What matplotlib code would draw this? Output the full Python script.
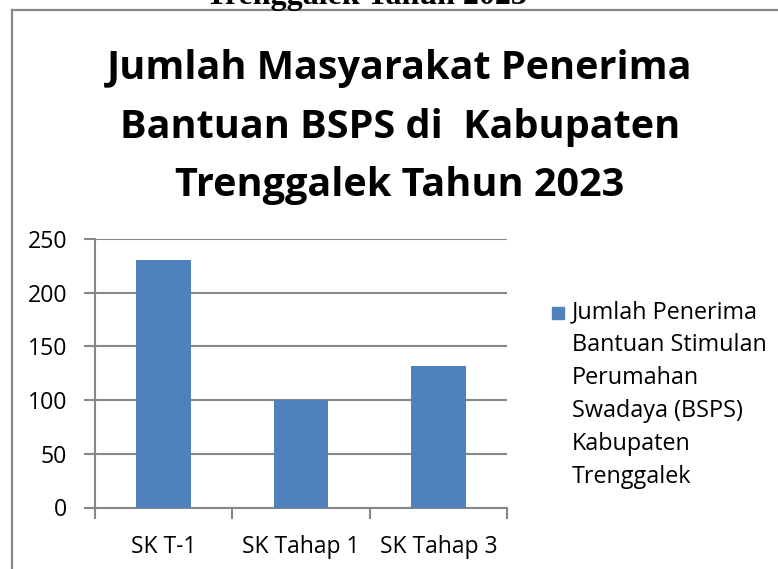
import matplotlib
matplotlib.use("Agg")
import matplotlib.pyplot as plt
from matplotlib.lines import Line2D
from matplotlib.patches import Rectangle

# data
kategori = ["SK T-1", "SK Tahap 1", "SK Tahap 3"]
jumlah = [230, 100, 132]
nama_seri = "Jumlah Penerima\nBantuan Stimulan\nPerumahan\nSwadaya (BSPS)\nKabupaten\nTrenggalek"
judul = "Jumlah Masyarakat Penerima\nBantuan BSPS di  Kabupaten\nTrenggalek Tahun 2023"
yticks = [0, 50, 100, 150, 200, 250]

plt.rcParams["font.family"] = "Open Sans"
abu = "#878787"
biru = "#4F81BD"

fig = plt.figure(figsize=(7.78, 5.69), dpi=100)

# teks dokumen yang terpotong di atas
fig.text(0.471, 1 - 4 / 569, "Trenggalek Tahun 2023", family="Liberation Serif",
         fontweight="bold", fontsize=23, ha="center", va="baseline")

# bingkai chart
fig.add_artist(Line2D([12 / 778, 1.0], [1 - 10 / 569, 1 - 10 / 569], color=abu, lw=1.6))
fig.add_artist(Line2D([12 / 778, 12 / 778], [1 - 10 / 569, 0.0], color=abu, lw=1.6))

fig.text(0.514, 1 - 127 / 569, judul, fontsize=28.5, fontweight="bold",
         ha="center", va="center", linespacing=1.65)

ax = fig.add_axes([95 / 778, 1 - 507.5 / 569, 412 / 778, 268.5 / 569])
x = range(len(kategori))
ax.bar(x, jumlah, width=0.4, color=biru, zorder=3)

ax.set_xlim(-0.5, 2.5)
ax.set_ylim(0, 250)
ax.set_yticks(yticks)
ax.yaxis.grid(True, color=abu, lw=1.5, zorder=0)
ax.set_xticks([-0.5, 0.5, 1.5, 2.5])
ax.set_xticklabels([])
ax.set_xticks(list(x), minor=True)
ax.set_xticklabels(kategori, minor=True)
ax.tick_params(axis="x", which="major", length=8, width=1.5, color=abu, direction="out")
ax.tick_params(axis="x", which="minor", length=0, labelsize=16.5, pad=20)
ax.tick_params(axis="y", length=8, width=1.5, color=abu, labelsize=16.7, pad=12)
for s in ["top", "right"]:
    ax.spines[s].set_visible(False)
for s in ["left", "bottom"]:
    ax.spines[s].set_color(abu)
    ax.spines[s].set_linewidth(1.5)

# legenda
fig.add_artist(Rectangle((552 / 778, 1 - 319 / 569), 12 / 778, 12 / 569,
                         transform=fig.transFigure, color=biru))
fig.text(572 / 778, 1 - 300 / 569, nama_seri, fontsize=16.8, ha="left", va="top",
         linespacing=1.5)

fig.savefig("out.png", dpi=100)
